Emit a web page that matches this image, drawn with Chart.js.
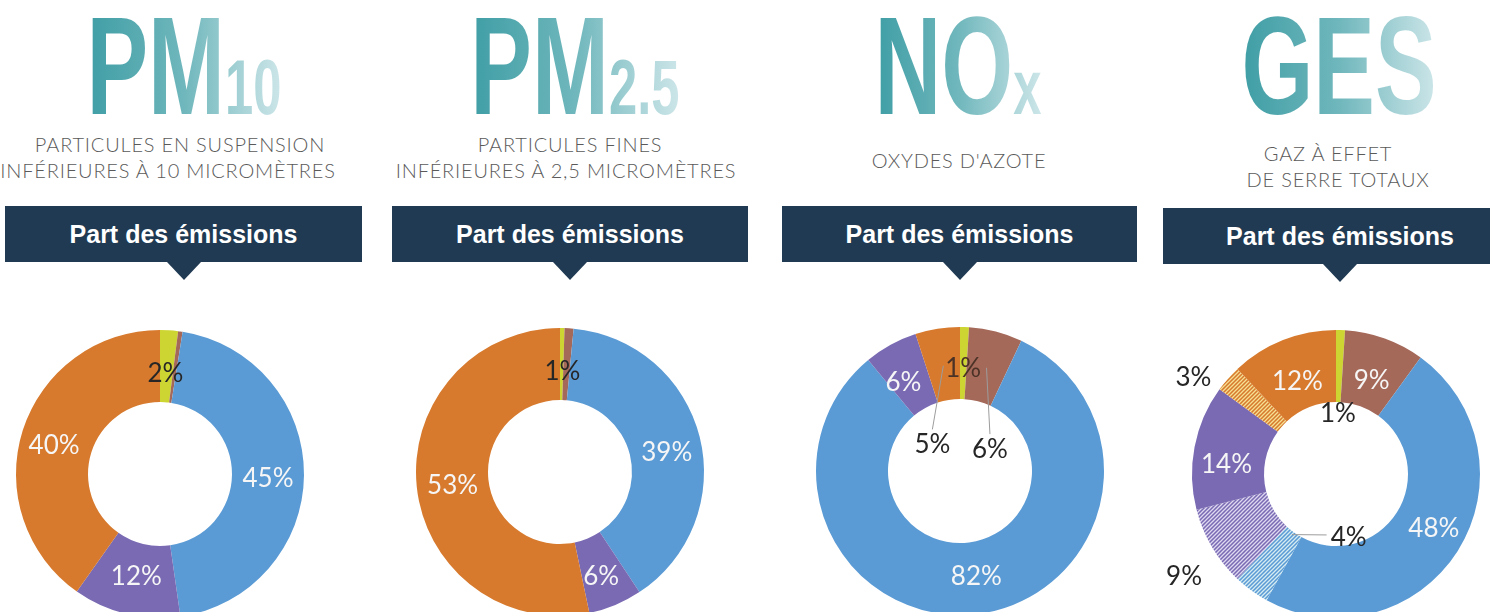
<!DOCTYPE html>
<html lang="fr">
<head>
<meta charset="utf-8">
<title>Part des émissions</title>
<script src="https://cdn.jsdelivr.net/npm/chart.js@4.4.0/dist/chart.umd.min.js"></script>
<style>
  html, body { margin: 0; padding: 0; background: #fff; }
  body { width: 1490px; height: 612px; position: relative; overflow: hidden; font-family: "Liberation Sans", Arial, sans-serif; }
  .title {
    position: absolute; top: -4px; white-space: nowrap; line-height: 140px;
    font-family: "Liberation Sans", Arial, sans-serif; font-weight: bold;
    transform: translateX(-50%) scaleX(0.66);
    background: linear-gradient(to right, #3f9ea5 0%, #6fb7bc 50%, #cde6e9 100%);
    -webkit-background-clip: text; background-clip: text; color: transparent;
  }
  .title .big { font-size: 140px; }
  .title .small { font-size: 77px; }
  .sub {
    position: absolute; transform: translateX(-50%); white-space: nowrap;
    font-family: "Lato Light", Lato, "Open Sans", sans-serif; font-weight: 300; font-size: 20px; line-height: 25px;
    color: #5a5a5a; letter-spacing: 0.8px;
  }
  .banner {
    position: absolute; top: 206px; height: 56px; background: #1f3a52; color: #fff;
    font-weight: bold; font-size: 25px; line-height: 56px; text-align: center;
  }
  .banner::after {
    content: ''; position: absolute; left: 50%; top: 56px; margin-left: -17px;
    border-left: 17px solid transparent; border-right: 17px solid transparent; border-top: 18px solid #1f3a52;
  }
  canvas { position: absolute; }
</style>
</head>
<body>

<div class="title" style="left:184px"><span class="big">PM</span><span class="small">10</span></div>
<div class="sub" style="left:180px; top:132px">PARTICULES EN SUSPENSION</div>
<div class="sub" style="left:168px; top:158px">INFÉRIEURES À 10 MICROMÈTRES</div>
<div class="banner" style="left:5px; width:357px">Part des émissions</div>

<div class="title" style="left:575px"><span class="big">PM</span><span class="small">2.5</span></div>
<div class="sub" style="left:570px; top:132px">PARTICULES FINES</div>
<div class="sub" style="left:566px; top:158px">INFÉRIEURES À 2,5 MICROMÈTRES</div>
<div class="banner" style="left:392px; width:356px">Part des émissions</div>

<div class="title" style="left:958px"><span class="big">NO</span><span class="small">x</span></div>
<div class="sub" style="left:959px; top:148px">OXYDES D'AZOTE</div>
<div class="banner" style="left:782px; width:355px">Part des émissions</div>

<div class="title" style="left:1339px"><span class="big">GES</span></div>
<div class="sub" style="left:1328px; top:141px">GAZ À EFFET</div>
<div class="sub" style="left:1338px; top:167px">DE SERRE TOTAUX</div>
<div class="banner" style="left:1163px; width:354px; top:208px">Part des émissions</div>

<canvas id="chart-pm10" width="380" height="340"></canvas>
<canvas id="chart-pm25" width="380" height="340"></canvas>
<canvas id="chart-nox" width="380" height="340"></canvas>
<canvas id="chart-ges" width="380" height="340"></canvas>

<script>
// secteurs (ordre des parts, sens horaire depuis midi)
const sectors = ["Énergie", "Agriculture", "Transports", "Industrie", "Résidentiel-tertiaire"];
const gesSectors = ["Énergie", "Agriculture", "Transports", "Transports (autres gaz)", "Industrie (autres gaz)",
    "Industrie", "Résidentiel-tertiaire (autres gaz)", "Résidentiel-tertiaire"];

// parts des émissions en %
const pm10Values = [2, 0.5, 45, 12, 40];
const pm25Values = [0.5, 1, 39, 6, 53];
const noxValues = [1, 6, 82, 6, 5];
const gesValues = [1, 9, 48, 4, 9, 14, 3, 12];

const YELLOW = "#cdd532";
const BROWN = "#a5695a";
const BLUE = "#5b9bd5";
const PURPLE = "#7a6ab3";
const ORANGE = "#d77a2d";

const RADIUS = 144;
const CANVAS_W = 380;
const CANVAS_H = 340;

function hatch(base, stripe) {
    const c = document.createElement("canvas");
    c.width = 4;
    c.height = 4;
    const g = c.getContext("2d");
    g.fillStyle = base;
    g.fillRect(0, 0, 4, 4);
    g.strokeStyle = stripe;
    g.lineWidth = 1.3;
    g.beginPath();
    g.moveTo(0, 4); g.lineTo(4, 0);
    g.moveTo(-1, 1); g.lineTo(1, -1);
    g.moveTo(3, 5); g.lineTo(5, 3);
    g.stroke();
    return g.createPattern(c, "repeat");
}

const baseColors = [YELLOW, BROWN, BLUE, PURPLE, ORANGE];
const gesColors = [YELLOW, BROWN, BLUE,
    hatch(BLUE, "rgba(225,245,245,0.9)"),
    hatch(PURPLE, "rgba(240,236,250,0.85)"),
    PURPLE,
    hatch(ORANGE, "rgba(250,235,160,0.9)"),
    ORANGE];

// placement des étiquettes : k = fraction du rayon extérieur, dx/dy = petit décalage
const pm10Labels = [
    { k: 0.70, dx: -1, dy: 0, dark: true },
    null,
    { k: 0.75, dx: 0, dy: 4 },
    { k: 0.73, dx: 1, dy: 0 },
    { k: 0.75, dx: -3, dy: 4 },
];
const pm25Labels = [
    null,
    { k: 0.70, dx: -4, dy: 0, dark: true },
    { k: 0.75, dx: 2, dy: 7 },
    { k: 0.78, dx: -2, dy: 1 },
    { k: 0.75, dx: 0, dy: 3 },
];
const noxLabels = [
    { k: 0.71, dx: 0, dy: 0, dark: true, color: "#4a3226" },
    { k: 0.25, dx: 21, dy: 13, dark: true, leader: { k: 0.74, from: "top" } },
    { k: 0.74, dx: 3, dy: 0 },
    { k: 0.73, dx: -6, dy: 4 },
    { k: 0.25, dx: -22, dy: 9, dark: true, leader: { k: 0.74, from: "top" } },
];
const gesLabels = [
    { k: 0.42, dx: 0, dy: 0, dark: true },
    { k: 0.69, dx: 2, dy: 0 },
    { k: 0.78, dx: 3, dy: -6 },
    { k: 0.30, dx: 38, dy: 29, dark: true, leader: { k: 0.52, from: "left" } },
    { k: 1.25, dx: 3, dy: 11, dark: true },
    { k: 0.76, dx: -2, dy: 11 },
    { k: 1.20, dx: -13, dy: 18, dark: true },
    { k: 0.69, dx: -2, dy: 0 },
];

const sliceLabels = {
    id: "sliceLabels",
    afterDatasetsDraw(chart, args, opts) {
        const ctx = chart.ctx;
        const meta = chart.getDatasetMeta(0);
        const values = chart.data.datasets[0].data;
        ctx.save();
        ctx.font = '26px Lato, "Open Sans", sans-serif';
        ctx.textAlign = "center";
        ctx.textBaseline = "middle";
        meta.data.forEach((arc, i) => {
            const p = opts.places[i];
            if (!p) return;
            const { x, y, startAngle, endAngle, outerRadius } =
                arc.getProps(["x", "y", "startAngle", "endAngle", "outerRadius"], true);
            const mid = (startAngle + endAngle) / 2;
            const lx = x + Math.cos(mid) * outerRadius * p.k + p.dx;
            const ly = y + Math.sin(mid) * outerRadius * p.k + p.dy;
            if (p.leader) {
                const ex = x + Math.cos(mid) * outerRadius * p.leader.k;
                const ey = y + Math.sin(mid) * outerRadius * p.leader.k;
                ctx.strokeStyle = "#9c9c9c";
                ctx.lineWidth = 1;
                ctx.beginPath();
                if (p.leader.from === "top") {
                    ctx.moveTo(lx, ly - 15);
                } else {
                    ctx.moveTo(lx - 22, ly - 3);
                }
                ctx.lineTo(ex, ey);
                ctx.stroke();
            }
            ctx.fillStyle = p.color || (p.dark ? "#262626" : "#f6f6f6");
            ctx.fillText(Math.round(values[i]) + "%", lx, ly);
        });
        ctx.restore();
    }
};

function makeDonut(id, cx, cy, labels, values, colors, places) {
    const canvas = document.getElementById(id);
    canvas.style.left = (cx - CANVAS_W / 2) + "px";
    canvas.style.top = (cy - CANVAS_H / 2) + "px";
    const padX = CANVAS_W / 2 - RADIUS;
    const padY = CANVAS_H / 2 - RADIUS;
    return new Chart(canvas.getContext("2d"), {
        type: "doughnut",
        data: {
            labels: labels,
            datasets: [{
                data: values,
                backgroundColor: colors,
                borderWidth: 0,
            }],
        },
        options: {
            responsive: false,
            animation: false,
            events: [],
            cutout: "50%",
            layout: { padding: { left: padX, right: padX, top: padY, bottom: padY } },
            plugins: {
                legend: { display: false },
                tooltip: { enabled: false },
                sliceLabels: { places: places },
            },
        },
        plugins: [sliceLabels],
    });
}

makeDonut("chart-pm10", 160, 474, sectors, pm10Values, baseColors, pm10Labels);
makeDonut("chart-pm25", 560, 472, sectors, pm25Values, baseColors, pm25Labels);
makeDonut("chart-nox", 960, 471, sectors, noxValues, baseColors, noxLabels);
makeDonut("chart-ges", 1336, 474, gesSectors, gesValues, gesColors, gesLabels);
</script>
</body>
</html>
